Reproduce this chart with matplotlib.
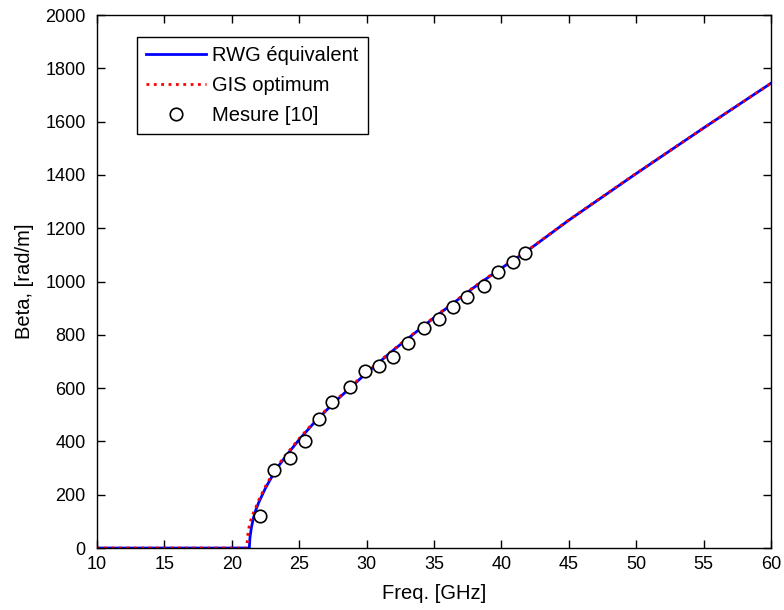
import numpy as np
import matplotlib.pyplot as plt

# RWG equivalent
f_rwg = [10, 15, 20, 21.3, 21.35, 21.45, 21.6, 21.8, 22, 22.5, 23, 23.5, 24, 25, 26, 27, 28,
         30, 32, 35, 38, 40, 42, 45, 50, 55, 60]
b_rwg = [0, 0, 0, 0, 40, 75, 112, 145, 171, 225, 270, 310, 344, 407, 464, 516, 565,
         657, 743, 864, 979, 1050, 1118, 1230, 1405, 1576, 1744]

# GIS optimum
f_gis = [10, 15, 20, 21.1, 21.2, 21.3, 21.5, 21.8, 22, 22.5, 23, 23.5, 24, 25, 26, 27, 28,
         30, 32, 35, 38, 40, 42, 45, 50, 55, 60]
b_gis = [0, 0, 0, 0, 55, 85, 120, 155, 180, 232, 276, 315, 349, 411, 468, 519, 568,
         660, 745, 866, 981, 1052, 1119, 1231, 1406, 1576, 1744]

# Mesure [10]
f_mes = [22.09, 23.15, 24.32, 25.45, 26.47, 27.41, 28.77, 29.86, 30.90, 31.93,
         33.07, 34.24, 35.37, 36.41, 37.42, 38.73, 39.77, 40.84, 41.77]
b_mes = [121, 292, 336, 401, 484, 547, 603, 665, 683, 718,
         770, 824, 858, 905, 941, 984, 1034, 1073, 1108]

plt.rcParams['font.family'] = ['Liberation Sans', 'DejaVu Sans']
plt.rcParams['font.size'] = 13

fig = plt.figure(figsize=(7.84, 6.1), dpi=100)
ax = fig.add_axes([0.1237, 0.1016, 0.8597, 0.8738])

ax.plot(f_rwg, b_rwg, color='blue', lw=2, label='RWG équivalent')
ax.plot(f_gis, b_gis, color='red', lw=2, linestyle=':', label='GIS optimum')
ax.plot(f_mes, b_mes, linestyle='none', marker='o', markersize=9, markerfacecolor='white',
        markeredgecolor='black', markeredgewidth=1.2, label='Mesure [10]')

ax.set_xlim(10, 60)
ax.set_ylim(0, 2000)
ax.set_xticks(np.arange(10, 61, 5))
ax.set_yticks(np.arange(0, 2001, 200))
ax.tick_params(direction='in', top=True, right=True, length=6, width=1, labelsize=13)
ax.tick_params(axis='y', pad=8)
ax.tick_params(axis='x', pad=5.5)
for s in ax.spines.values():
    s.set_linewidth(1)
ax.set_xlabel('Freq. [GHz]', fontsize=14.5, labelpad=8)
ax.set_ylabel('Beta, [rad/m]', fontsize=14.5, labelpad=8)

leg = ax.legend(loc='upper left', bbox_to_anchor=(0.0593, 0.9587), fancybox=False,
                edgecolor='black', framealpha=1, fontsize=14.5, handlelength=3.0,
                handletextpad=0.3, borderpad=0.45, labelspacing=0.55, borderaxespad=0)
leg.get_frame().set_linewidth(1)

fig.savefig('out.png', dpi=100)
